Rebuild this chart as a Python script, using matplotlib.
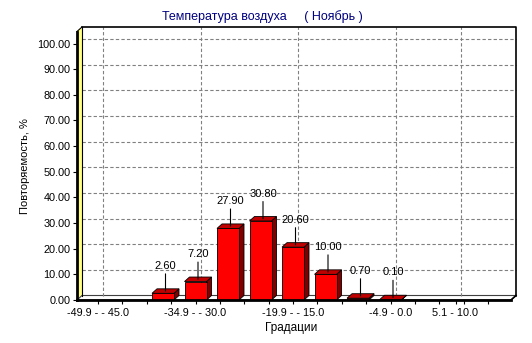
import numpy as np
import matplotlib
matplotlib.use("Agg")
import matplotlib.pyplot as plt
from matplotlib.patches import Polygon, Rectangle

plt.rcParams['font.family'] = ['Liberation Sans', 'DejaVu Sans']
plt.rcParams['font.size'] = 7.8

# data
categories = ["-49.9 - -45.0", "-44.9 - -40.0", "-39.9 - -35.0", "-34.9 - -30.0",
              "-29.9 - -25.0", "-24.9 - -20.0", "-19.9 - -15.0", "-14.9 - -10.0",
              "-9.9 - -5.0", "-4.9 - 0.0", "0.1 - 5.0", "5.1 - 10.0"]
values = [0, 0, 2.60, 7.20, 27.90, 30.80, 20.60, 10.00, 0.70, 0.10, 0, 0]
shown_idx = [0, 3, 6, 9, 11]
shown_labels = ["-49.9 - - 45.0", "-34.9 - - 30.0", "-19.9 - - 15.0", "-4.9 - 0.0", "5.1 - 10.0"]
y_ticks = [0, 10, 20, 30, 40, 50, 60, 70, 80, 90, 100]

W, H = 532, 343
fig = plt.figure(figsize=(W / 100, H / 100), dpi=100)
fig.patch.set_facecolor("white")

# front plane of the plot box, in pixels
left_px, right_px, bottom_px, top_px = 77, 511, 300, 31.5
ax = fig.add_axes([left_px / W, 1 - bottom_px / H,
                   (right_px - left_px) / W, (bottom_px - top_px) / H])
cat_px = 32.5
unit_px = 2.565
x0 = (left_px - 98) / cat_px
x1 = x0 + (right_px - left_px) / cat_px
ytop = (bottom_px - top_px) / unit_px
ax.set_xlim(x0, x1)
ax.set_ylim(0, ytop)
for s in ax.spines.values():
    s.set_visible(False)
ax.patch.set_visible(False)

# depth of the 3d effect in data units
dx = 5 / cat_px
dy = 4.5 / unit_px

# back wall, left wall, floor
ax.add_patch(Polygon([(x0, 0), (x0 + dx, dy), (x0 + dx, ytop + dy), (x0, ytop)],
                     closed=True, fc="#FFFF80", ec="none", clip_on=False, zorder=1))
ax.add_patch(Polygon([(x0, 0), (x1, 0), (x1 + dx, dy), (x0 + dx, dy)],
                     closed=True, fc="white", ec="#404040", lw=0.8, clip_on=False, zorder=1))
for v in y_ticks[1:]:
    ax.plot([x0 + dx, x1 + dx], [v + dy, v + dy], color="#808080", lw=0.8,
            dashes=(3, 2), clip_on=False, zorder=1)
for i in shown_idx:
    ax.plot([i + dx, i + dx], [dy, ytop + dy], color="#808080", lw=0.8,
            dashes=(3, 2), clip_on=False, zorder=1)
ax.plot([x0 + dx, x1 + dx, x1 + dx], [ytop + dy, ytop + dy, dy], color="black",
        lw=1.2, clip_on=False, zorder=2)
ax.plot([x0 + dx, x0 + dx], [dy, ytop + dy], color="black", lw=0.8, clip_on=False, zorder=2)
ax.plot([x0, x0 + dx], [ytop, ytop + dy], color="black", lw=0.8, clip_on=False, zorder=2)
ax.plot([x1, x1 + dx], [0, dy], color="black", lw=1.2, clip_on=False, zorder=2)
ax.plot([x0, x0], [0, ytop], color="black", lw=2, clip_on=False, zorder=5)
ax.plot([x0, x1], [0, 0], color="black", lw=2, clip_on=False, zorder=5)

# 3d bars
bw = 22 / cat_px
for i, v in enumerate(values):
    if v <= 0:
        continue
    l, r = i - bw / 2, i + bw / 2
    ax.add_patch(Polygon([(r, 0), (r + dx, dy), (r + dx, v + dy), (r, v)], closed=True,
                         fc="#800000", ec="black", lw=0.6, clip_on=False, zorder=3))
    ax.add_patch(Polygon([(l, v), (r, v), (r + dx, v + dy), (l + dx, v + dy)], closed=True,
                         fc="#C00000", ec="black", lw=0.6, clip_on=False, zorder=3))
    ax.add_patch(Rectangle((l, 0), bw, v, fc="#FF0000", ec="black", lw=0.6,
                           clip_on=False, zorder=3))
    ax.annotate(f"{v:.2f}", xy=(i + dx / 2, v + dy / 2), xytext=(0, 25),
                textcoords="offset pixels", ha="center", va="center", fontsize=8,
                arrowprops=dict(arrowstyle="-", color="black", lw=0.8,
                                shrinkA=0, shrinkB=0), zorder=4)

# ticks
ax.set_yticks(y_ticks, [f"{v:.2f}" for v in y_ticks])
xt = sorted(set(np.round(np.arange(0, 12.01, 0.75), 2).tolist()) | set(shown_idx))
xl = [shown_labels[shown_idx.index(int(t))] if t in shown_idx else "" for t in xt]
ax.set_xticks(xt, xl)
ax.tick_params(axis="y", length=3, width=0.8, pad=1.5)
ax.tick_params(axis="x", length=3, width=0.8, pad=3)

fig.text(262 / W, 1 - 17 / H, "Температура воздуха     ( Ноябрь )", color="#000080",
         ha="center", va="center", fontsize=9)
fig.text(25 / W, 1 - 166 / H, "Повторяемость, %", rotation=90, ha="center", va="center",
         fontsize=8)
fig.text(291 / W, 1 - 328 / H, "Градации", ha="center", va="center", fontsize=8.5)

fig.savefig("out.png", dpi=100)
